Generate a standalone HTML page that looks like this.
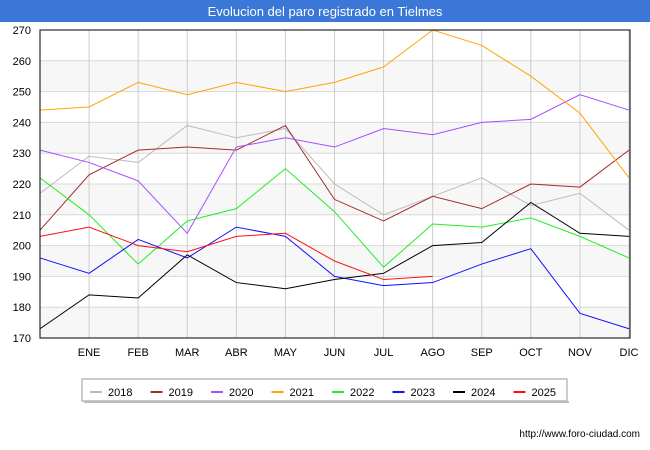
<!DOCTYPE html>
<html><head><meta charset="utf-8"><style>
body{margin:0;background:#fff;font-family:"Liberation Sans",sans-serif;}
#wrap{position:relative;width:650px;height:450px;overflow:hidden}
</style></head><body>
<div id="wrap">
<svg id="chart" width="650" height="450" font-family="Liberation Sans, sans-serif">
<rect x="0" y="0" width="650" height="22" fill="#3a77d6"/>
<text x="325" y="16" fill="#fff" font-size="13" text-anchor="middle">Evolucion del paro registrado en Tielmes</text>
<g id="grid"></g><g id="series"></g><g id="axes"></g>
<rect x="40" y="30" width="590" height="308" fill="none" stroke="#000" stroke-width="1"/>
<g id="legend"></g>
<text x="640" y="437" font-size="10" text-anchor="end" fill="#000">http://www.foro-ciudad.com</text>
</svg>
</div>
<script>
const months=["","ENE","FEB","MAR","ABR","MAY","JUN","JUL","AGO","SEP","OCT","NOV","DIC"];
const yTicks=[170,180,190,200,210,220,230,240,250,260,270];
const seriesNames=["2018","2019","2020","2021","2022","2023","2024","2025"];
const seriesColors=["#bbbbbb","#a52a2a","#a64dff","#ffa500","#22ee22","#1010ff","#000000","#ff1010"];
const s2018=[217,229,227,239,235,238,220,210,216,222,213,217,205];
const s2019=[205,223,231,232,231,239,215,208,216,212,220,219,231];
const s2020=[231,227,221,204,232,235,232,238,236,240,241,249,244];
const s2021=[244,245,253,249,253,250,253,258,270,265,255,243,222];
const s2022=[222,210,194,208,212,225,211,193,207,206,209,203,196];
const s2023=[196,191,202,196,206,203,190,187,188,194,199,178,173];
const s2024=[173,184,183,197,188,186,189,191,200,201,214,204,203];
const s2025=[203,206,200,198,203,204,195,189,190];
const allSeries=[s2018,s2019,s2020,s2021,s2022,s2023,s2024,s2025];
const NS="http://www.w3.org/2000/svg";
const X0=40,X1=629,Y0=338,Y1=30,VMIN=170,VMAX=270;
function xs(i){return X0+(X1-X0)*i/(months.length-1);}
function ys(v){return Y0-(v-VMIN)*(Y0-Y1)/(VMAX-VMIN);}
function mk(t,a,p){const e=document.createElementNS(NS,t);for(const k in a)e.setAttribute(k,a[k]);p.appendChild(e);return e;}
const grid=document.getElementById('grid'),axes=document.getElementById('axes'),ser=document.getElementById('series'),leg=document.getElementById('legend');
for(let i=0;i<yTicks.length-1;i++){
 if(i%2===0){const b=mk('rect',{x:X0,y:ys(yTicks[i+1]),width:590,height:ys(yTicks[i])-ys(yTicks[i+1]),fill:'#f7f7f7'},grid);
 
 }
}
yTicks.forEach(v=>{
 const l=mk('line',{x1:X0,x2:630,y1:ys(v),y2:ys(v),stroke:'#d8d8d8'},grid);
 
 
 const t=mk('text',{x:31,y:ys(v)+4,'font-size':11,'text-anchor':'end',fill:'#000'},axes);t.textContent=v;
 
 
});
months.forEach((m,i)=>{
 if(i===0)return;
 const l=mk('line',{x1:xs(i),x2:xs(i),y1:Y1,y2:Y0,stroke:'#cccccc'},grid);
 
 
 const t=mk('text',{x:xs(i),y:356,'font-size':11,'text-anchor':'middle',fill:'#000'},axes);t.textContent=m;
 
 
});
allSeries.forEach((d,k)=>{
 const p=mk('polyline',{points:d.map((v,i)=>xs(i)+','+ys(v)).join(' '),fill:'none',stroke:seriesColors[k],'stroke-width':1},ser);
 
 
});
const lb=mk('rect',{x:82,y:379,width:485,height:22,fill:'#fff',stroke:'#999'},leg);


mk('rect',{x:84,y:401,width:485,height:2,fill:'#bbb'},leg);
seriesNames.forEach((n,k)=>{
 const x0=90+k*60.5;
 const g=mk('g',{},leg);
 
 
 mk('line',{x1:x0,x2:x0+12,y1:392,y2:392,stroke:seriesColors[k],'stroke-width':2},g);
 const t=mk('text',{x:x0+18,y:396,'font-size':11,fill:'#000'},g);t.textContent=n;
});
</script>
</body></html>
